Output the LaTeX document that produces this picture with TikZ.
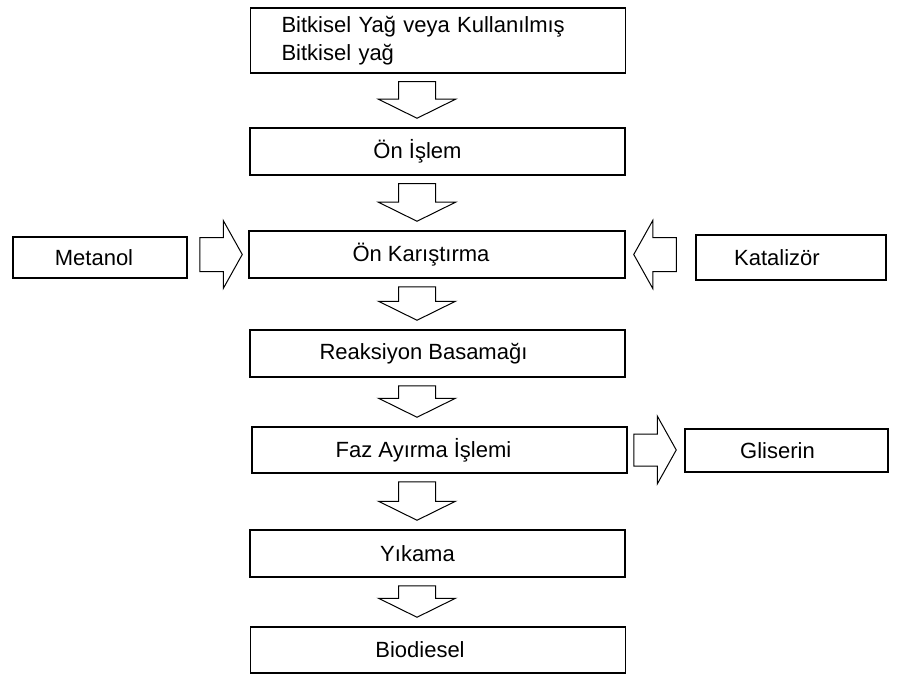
\documentclass[tikz,border=0pt]{standalone}
\usepackage{fontspec}
\setmainfont{Liberation Sans}
\usetikzlibrary{calc}

\tikzset{
    kutu/.style={draw, line width=1.5pt, inner sep=0pt, minimum height=47pt,
        font=\fontsize{22}{28}\selectfont},
    % yazıyı kutu ortasından sola kaydırır
    sola/.style={execute at end node={\hspace*{#1}}},
    okcizgi/.style={draw, line width=1pt, line join=miter},
}

% kalın blok ok: #1 başlangıç, #2 uç, #3 gövde yarı genişliği, #4 baş yarı genişliği
\newcommand{\kalinok}[4]{%
    \coordinate (kb) at ($(#2)!19pt!(#1)$);
    \draw[okcizgi] ($(#1)!#3!90:(#2)$) -- ($(kb)!#3!90:(#2)$) -- ($(kb)!#4!90:(#2)$) -- (#2)
        -- ($(kb)!#4!-90:(#2)$) -- ($(kb)!#3!-90:(#2)$) -- ($(#1)!#3!-90:(#2)$) -- cycle;
}

\begin{document}
\begin{tikzpicture}[x=1pt,y=-1pt]
            \useasboundingbox (0,0) rectangle (901,676);

            % ana kutular
            \node[kutu, minimum width=375pt, minimum height=65pt, align=left,
                text width=313pt, inner xsep=31pt] (b1) at (438,40.5)
                {Bitkisel Yağ veya Kullanılmış\\Bitkisel yağ};
            \node[kutu, sola=40pt, minimum width=375pt] (b2) at (437.5,151.5) {Ön İşlem};
            \node[kutu, sola=32pt, minimum width=376pt] (b3) at (437,254.5) {Ön Karıştırma};
            \node[kutu, sola=28pt, minimum width=375pt] (b4) at (437.5,353.5) {Reaksiyon Basamağı};
            \node[kutu, sola=32pt, minimum width=375pt, minimum height=46pt] (b5) at (439.5,450) {Faz Ayırma İşlemi};
            \node[kutu, sola=40pt, minimum width=375pt] (b6) at (437.5,553.5) {Yıkama};
            \node[kutu, sola=36pt, minimum width=375pt, minimum height=46pt] (b7) at (438,650) {Biodiesel};

            % yan kutular
            \node[kutu, sola=12pt, minimum width=174pt, minimum height=41pt] (metanol) at (100,257.5) {Metanol};
            \node[kutu, sola=28pt, minimum width=190pt, minimum height=45pt] (kat) at (791,257.5) {Katalizör};
            \node[kutu, sola=18pt, minimum width=203pt, minimum height=43pt] (glis) at (786.5,450.5) {Gliserin};

            % aşağı oklar
            \coordinate (ok) at (417,0);
            \foreach \u/\v in {b1/b2, b2/b3, b3/b4, b4/b5, b5/b6, b6/b7} {
                \coordinate (s) at ($(\u.south -| ok)+(0,8)$);
                \coordinate (t) at ($(\v.north -| ok)+(0,-9)$);
                \kalinok{s}{t}{18.5pt}{38.5pt}
            }

            % yan oklar
            \coordinate (m1) at ($(metanol.east |- b3.center)+(12,0)$);
            \coordinate (m2) at ($(b3.west)+(-6,0)$);
            \kalinok{m1}{m2}{17pt}{34pt}

            \coordinate (k1) at ($(kat.west |- b3.center)+(-19,0)$);
            \coordinate (k2) at ($(b3.east)+(8,0)$);
            \kalinok{k1}{k2}{17pt}{34pt}

            \coordinate (g1) at ($(b5.east)+(6,0)$);
            \coordinate (g2) at ($(glis.west |- b5.center)+(-8,0)$);
            \kalinok{g1}{g2}{16pt}{34pt}

\end{tikzpicture}
\end{document}
